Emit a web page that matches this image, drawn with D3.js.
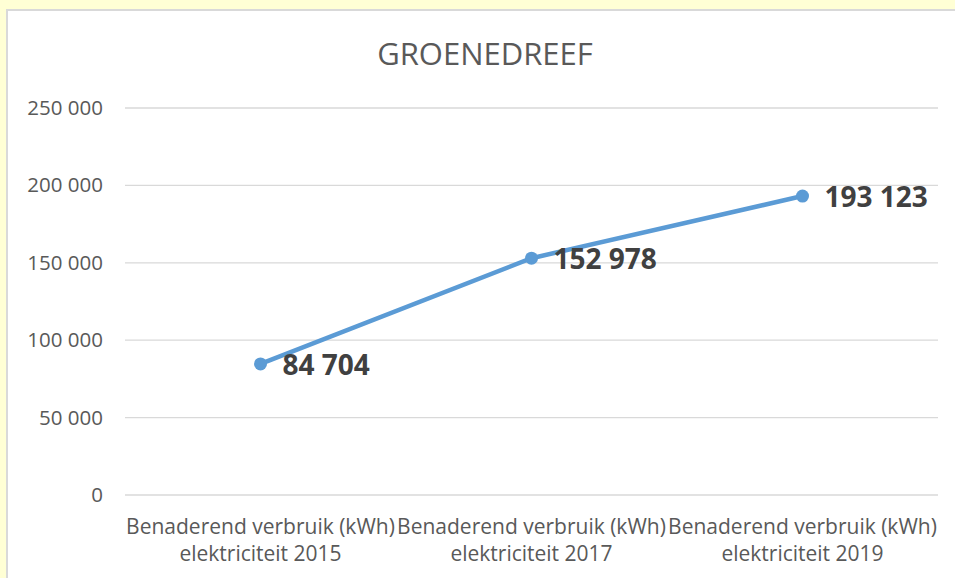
<!DOCTYPE html>
<html>
<head>
<meta charset="utf-8">
<script src="https://cdn.jsdelivr.net/npm/d3@7"></script>
<style>
  body { margin: 0; background: #ffffd5; }
  svg { display: block; font-family: "Open Sans", sans-serif; }
</style>
</head>
<body>
<svg id="chart" width="955" height="578"></svg>
<script>
const title = 'GROENEDREEF'
const categories = [
    ['Benaderend verbruik (kWh)', 'elektriciteit 2015'],
    ['Benaderend verbruik (kWh)', 'elektriciteit 2017'],
    ['Benaderend verbruik (kWh)', 'elektriciteit 2019']
]
const values = [84704, 152978, 193123]
const yTicks = [0, 50000, 100000, 150000, 200000, 250000]

const svg = d3.select('#chart')
const plotLeft = 125, plotRight = 938, plotTop = 108, plotBottom = 495

const fmt = v => d3.format(',')(v).replace(/,/g, ' ')

// white panel with grey border
svg.append('rect')
    .attr('x', 7).attr('y', 10)
    .attr('width', 960).attr('height', 600)
    .attr('fill', '#fff')
    .attr('stroke', '#d9d9d9')
    .attr('stroke-width', 2)

const x = d3.scaleBand()
    .domain(d3.range(categories.length))
    .range([plotLeft, plotRight])

const y = d3.scaleLinear()
    .domain([0, 250000])
    .range([plotBottom, plotTop])

svg.append('text')
    .attr('x', 485)
    .attr('y', 65)
    .attr('text-anchor', 'middle')
    .attr('font-size', 31)
    .attr('fill', '#595959')
    .text(title)

// gridlines
svg.append('g')
    .selectAll('line')
    .data(yTicks)
    .enter()
    .append('line')
    .attr('x1', plotLeft).attr('x2', plotRight)
    .attr('y1', d => y(d)).attr('y2', d => y(d))
    .attr('stroke', '#d9d9d9')
    .attr('stroke-width', 1.3)

const yAxis = svg.append('g')
    .attr('transform', `translate(${plotLeft - 22},0)`)
    .call(d3.axisLeft(y).tickValues(yTicks).tickFormat(fmt).tickSize(0).tickPadding(0))
yAxis.select('.domain').remove()
yAxis.selectAll('text')
    .attr('font-size', 20.5)
    .attr('font-family', '"Open Sans", sans-serif')
    .attr('fill', '#595959')

const xLabels = svg.append('g')
    .selectAll('text')
    .data(categories)
    .enter()
    .append('text')
    .attr('text-anchor', 'middle')
    .attr('font-size', 21)
    .attr('fill', '#595959')
    .attr('x', (_, i) => x(i) + x.bandwidth() / 2)
    .attr('y', 534)
xLabels.selectAll('tspan')
    .data(d => d)
    .enter()
    .append('tspan')
    .attr('x', function () { return d3.select(this.parentNode).attr('x') })
    .attr('dy', (_, i) => i === 0 ? 0 : 27)
    .text(d => d)

const cx = i => x(i) + x.bandwidth() / 2

svg.append('path')
    .datum(values)
    .attr('fill', 'none')
    .attr('stroke', '#5b9bd5')
    .attr('stroke-width', 4.5)
    .attr('stroke-linecap', 'round')
    .attr('d', d3.line().x((_, i) => cx(i)).y(d => y(d)))

svg.append('g')
    .selectAll('circle')
    .data(values)
    .enter()
    .append('circle')
    .attr('cx', (_, i) => cx(i))
    .attr('cy', d => y(d))
    .attr('r', 6.5)
    .attr('fill', '#5b9bd5')

svg.append('g')
    .selectAll('text')
    .data(values)
    .enter()
    .append('text')
    .attr('x', (_, i) => cx(i) + 22)
    .attr('y', d => y(d) + 11)
    .attr('font-size', 28)
    .attr('font-weight', 'bold')
    .attr('fill', '#404040')
    .text(fmt)
</script>
</body>
</html>
